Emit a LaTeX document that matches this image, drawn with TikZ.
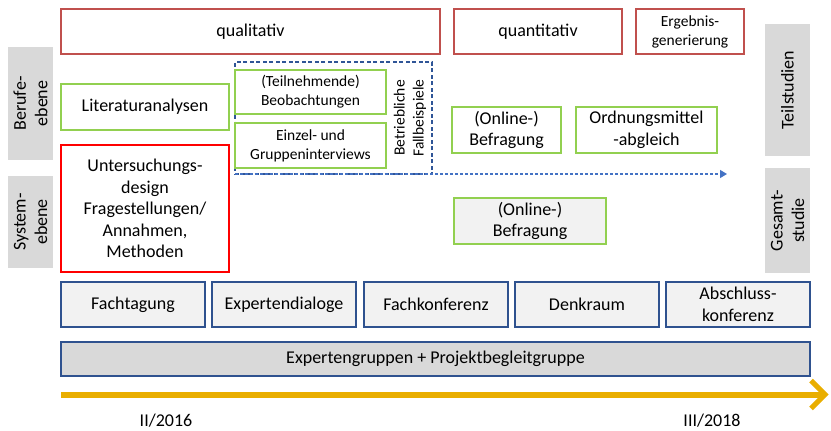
\documentclass[tikz,border=0pt]{standalone}
\usepackage{fontspec}
\setmainfont{Carlito}
\usetikzlibrary{arrows.meta,calc}
\definecolor{redA}{HTML}{C0504D}
\definecolor{redB}{HTML}{FF0000}
\definecolor{grn}{HTML}{92D050}
\definecolor{dblue}{HTML}{2F5597}
\definecolor{lblue}{HTML}{4472C4}
\definecolor{navy}{HTML}{2F528F}
\definecolor{lgray}{HTML}{F2F2F2}
\definecolor{mgray}{HTML}{D9D9D9}
\definecolor{yel}{HTML}{E9AE00}
\begin{document}
\begin{tikzpicture}[x=1pt,y=-1pt,
  base/.style={anchor=north west, align=center, inner sep=0pt, outer sep=0pt, font=\fontsize{18}{21.5}\selectfont},
  small/.style={font=\fontsize{15.5}{19}\selectfont},
  redbox/.style={base, draw=redA, line width=1.5pt, fill=white},
  rbox/.style={base, draw=redB, line width=1.5pt, fill=white},
  gbox/.style={base, draw=grn, line width=1.8pt, fill=white},
  nbox/.style={base, draw=navy, line width=1.6pt, fill=lgray},
  side/.style={base, anchor=center, fill=mgray, rotate=90},
  dbox/.style={base, draw=dblue, line width=1.3pt, dash pattern=on 4pt off 2.5pt},
  darrow/.style={draw=lblue, line width=1.2pt, dash pattern=on 3pt off 2pt, -{Triangle[length=7pt,width=8pt]}},
  tline/.style={draw=yel, line width=6pt}
]
\useasboundingbox (0,0) rectangle (831,431);

% top row
\node[redbox, minimum width=379pt, minimum height=45pt] (qual) at (61,9) {qualitativ};
\node[redbox, minimum width=168pt, minimum height=45pt] (quant) at (454,9) {quantitativ};
\node[redbox, small, minimum width=108pt, minimum height=45pt] (erg) at (636,9) {Ergebnis-\\generierung};

% side labels
\node[side, minimum width=113pt, minimum height=45pt] (beruf) at (30.5,103.5) {Berufe-\\ebene};
\node[side, minimum width=92pt, minimum height=45pt] (system) at (30.5,222) {System-\\ebene};
\node[side, minimum width=132pt, minimum height=45pt] (teil) at (787.5,90) {Teilstudien};
\node[side, minimum width=105pt, minimum height=45pt] (gesamt) at (787.5,220.5) {Gesamt-\\studie};

% left column
\node[gbox, minimum width=168pt, minimum height=46pt] (lit) at (61,84) {Literaturanalysen};
\node[rbox, minimum width=168pt, minimum height=127pt] (design) at (61,145) {Untersuchungs-\\design\\Fragestellungen/\\Annahmen,\\Methoden};

% Fallbeispiele
\node[dbox, minimum width=197pt, minimum height=112pt] (fb) at (235,62) {};
\node[gbox, small, minimum width=151pt, minimum height=44pt] (beob) at (235,70) {(Teilnehmende)\\Beobachtungen};
\node[gbox, small, minimum width=151pt, minimum height=45pt] (interv) at (235,123) {Einzel- und\\Gruppeninterviews};
\node[base, small, anchor=center, rotate=90] (fbt) at (410,118) {Betriebliche\\Fallbeispiele};

% quantitative
\node[gbox, minimum width=109pt, minimum height=46pt] (onl1) at (452,107) {(Online-)\\Befragung};
\node[gbox, minimum width=141pt, minimum height=46pt] (ord) at (576,107) {Ordnungsmittel\\-abgleich};
\node[gbox, fill=lgray, minimum width=152pt, minimum height=46pt] (onl2) at (454,198) {(Online-)\\Befragung};

% dashed arrow
\coordinate (aend) at (727,174);
\draw[darrow] (fb.south west) -- (aend);

% bottom row
\node[nbox, minimum width=144pt, minimum height=45pt] (b1) at (61,282) {Fachtagung};
\node[nbox, minimum width=144pt, minimum height=45pt] (b2) at (212,282) {Expertendialoge};
\node[nbox, minimum width=144pt, minimum height=45pt] (b3) at (364,282) {Fachkonferenz};
\node[nbox, minimum width=144pt, minimum height=45pt] (b4) at (515,282) {Denkraum};
\node[nbox, minimum width=144pt, minimum height=45pt] (b5) at (666,282) {Abschluss-\\konferenz};
\node[nbox, fill=mgray, minimum width=749pt, minimum height=34pt] (exp) at (61,342) {Expertengruppen + Projektbegleitgruppe};

% timeline
\coordinate (t0) at (61,394.5);
\coordinate (t1) at (824,394.5);
\coordinate (tip) at (825,394.5);
\draw[tline] (t0) -- (t1);
\draw[tline, line width=5pt, line join=miter] ($(tip)+(-14,-14)$) -- (tip) -- ($(tip)+(-14,14)$);

\node[base, anchor=center] (d1) at (166,421) {II/2016};
\node[base, anchor=center] (d2) at (712,421) {III/2018};
\end{tikzpicture}
\end{document}
